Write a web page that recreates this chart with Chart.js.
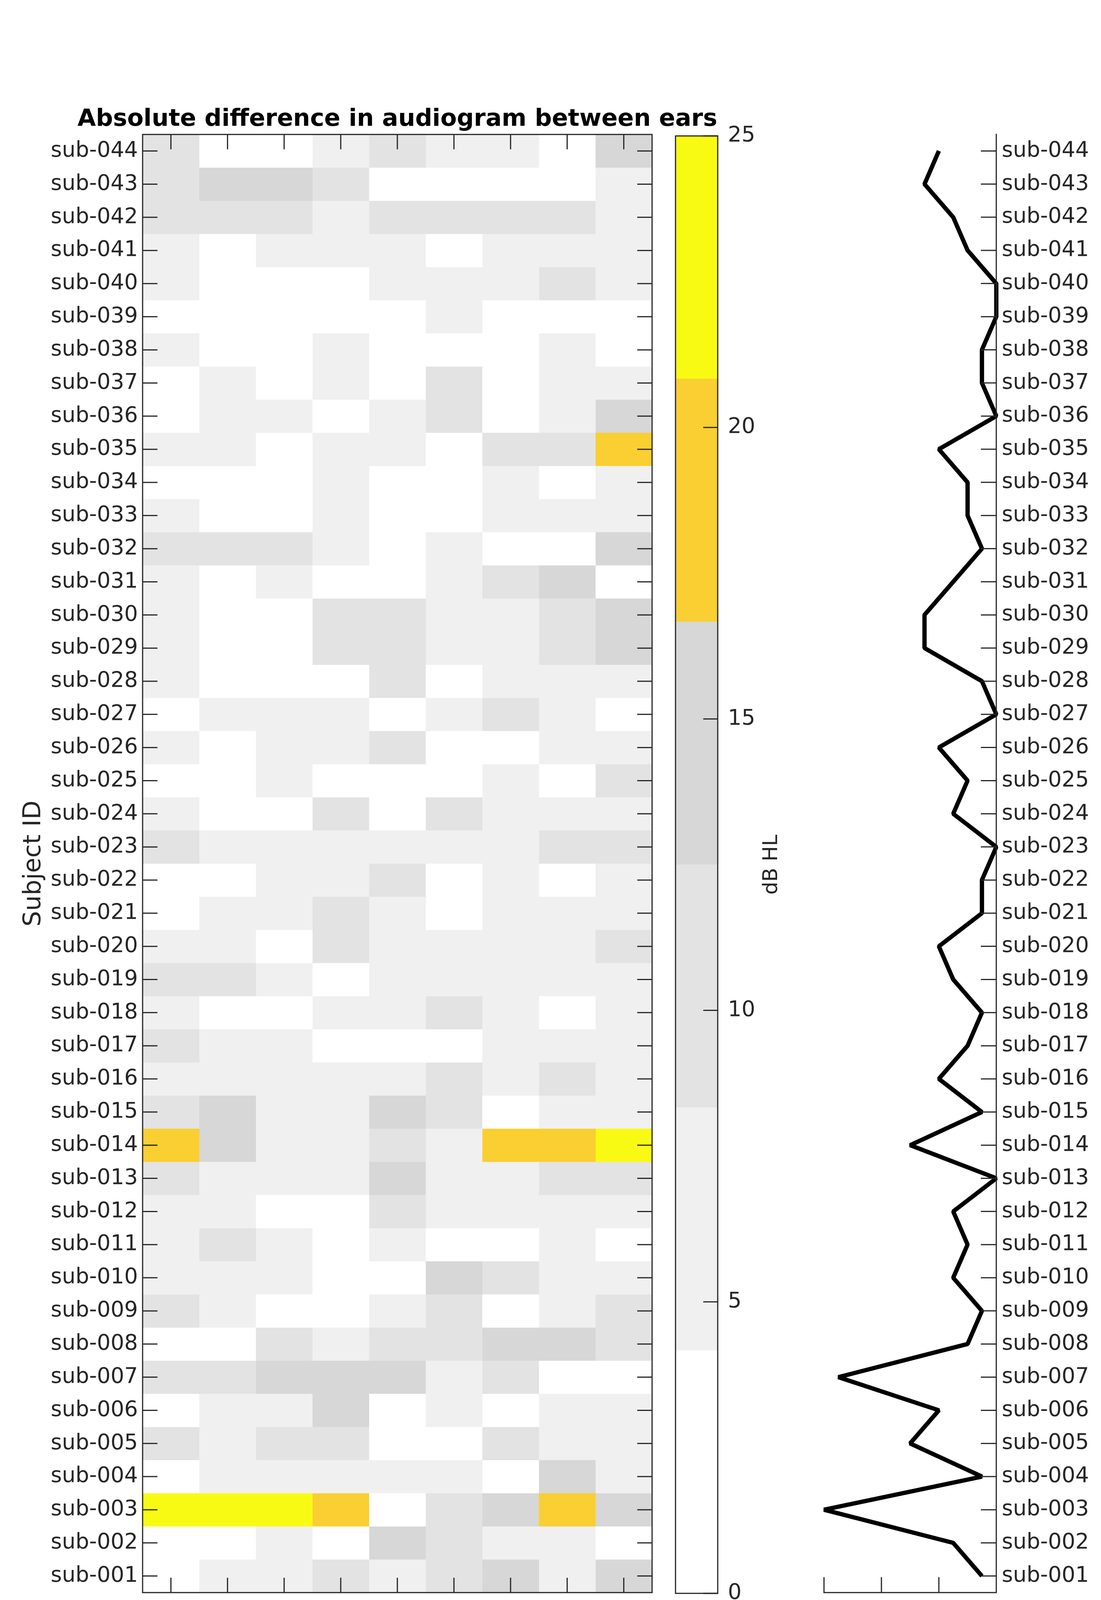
<!DOCTYPE html>
<html>
<head>
<meta charset="utf-8">
<title>Absolute difference in audiogram between ears</title>
<script src="https://cdn.jsdelivr.net/npm/chart.js@4.4.1/dist/chart.umd.min.js"></script>
<style>
  html, body { margin: 0; padding: 0; background: #ffffff; }
  body { width: 2818px; height: 4583px; position: relative; overflow: hidden; }
  canvas { position: absolute; top: 0; }
  #heat { left: 0; }
  #cbar { left: 1700px; }
  #pta  { left: 2000px; }
</style>
</head>
<body>
<canvas id="heat" width="2034" height="4583"></canvas>
<canvas id="cbar" width="300" height="4583"></canvas>
<canvas id="pta" width="818" height="4583"></canvas>

<script>
'use strict';

// ─────────────────────────────────────────────
// DATA
// ─────────────────────────────────────────────

const SUBJECTS = [
  'sub-001', 'sub-002', 'sub-003', 'sub-004', 'sub-005', 'sub-006', 'sub-007', 'sub-008',
  'sub-009', 'sub-010', 'sub-011', 'sub-012', 'sub-013', 'sub-014', 'sub-015', 'sub-016',
  'sub-017', 'sub-018', 'sub-019', 'sub-020', 'sub-021', 'sub-022', 'sub-023', 'sub-024',
  'sub-025', 'sub-026', 'sub-027', 'sub-028', 'sub-029', 'sub-030', 'sub-031', 'sub-032',
  'sub-033', 'sub-034', 'sub-035', 'sub-036', 'sub-037', 'sub-038', 'sub-039', 'sub-040',
  'sub-041', 'sub-042', 'sub-043', 'sub-044',
];

const FREQ_LABELS = ['.125', '.25', '.5', '1', '2', '3', '4', '6', '8'];

// |left - right| threshold per subject (rows) and frequency (columns), dB HL
const DB_DIFF = [
  [0, 5, 5, 10, 5, 10, 15, 5, 15],      // sub-001
  [0, 0, 5, 0, 15, 10, 5, 5, 0],        // sub-002
  [25, 25, 25, 20, 0, 10, 15, 20, 15],  // sub-003
  [0, 5, 5, 5, 5, 5, 0, 15, 5],         // sub-004
  [10, 5, 10, 10, 0, 0, 10, 5, 5],      // sub-005
  [0, 5, 5, 15, 0, 5, 0, 5, 5],         // sub-006
  [10, 10, 15, 15, 15, 5, 10, 0, 0],    // sub-007
  [0, 0, 10, 5, 10, 10, 15, 15, 10],    // sub-008
  [10, 5, 0, 0, 5, 10, 0, 5, 10],       // sub-009
  [5, 5, 5, 0, 0, 15, 10, 5, 5],        // sub-010
  [5, 10, 5, 0, 5, 0, 0, 5, 0],         // sub-011
  [5, 5, 0, 0, 10, 5, 5, 5, 5],         // sub-012
  [10, 5, 5, 5, 15, 5, 5, 10, 10],      // sub-013
  [20, 15, 5, 5, 10, 5, 20, 20, 25],    // sub-014
  [10, 15, 5, 5, 15, 10, 0, 5, 5],      // sub-015
  [5, 5, 5, 5, 5, 10, 5, 10, 5],        // sub-016
  [10, 5, 5, 0, 0, 0, 5, 5, 5],         // sub-017
  [5, 0, 0, 5, 5, 10, 5, 0, 5],         // sub-018
  [10, 10, 5, 0, 5, 5, 5, 5, 5],        // sub-019
  [5, 5, 0, 10, 5, 5, 5, 5, 10],        // sub-020
  [0, 5, 5, 10, 5, 0, 5, 5, 5],         // sub-021
  [0, 0, 5, 5, 10, 0, 5, 0, 5],         // sub-022
  [10, 5, 5, 5, 5, 5, 5, 10, 10],       // sub-023
  [5, 0, 0, 10, 0, 10, 5, 5, 5],        // sub-024
  [0, 0, 5, 0, 0, 0, 5, 0, 10],         // sub-025
  [5, 0, 5, 5, 10, 0, 0, 5, 5],         // sub-026
  [0, 5, 5, 5, 0, 5, 10, 5, 0],         // sub-027
  [5, 0, 0, 0, 10, 0, 5, 5, 5],         // sub-028
  [5, 0, 0, 10, 10, 5, 5, 10, 15],      // sub-029
  [5, 0, 0, 10, 10, 5, 5, 10, 15],      // sub-030
  [5, 0, 5, 0, 0, 5, 10, 15, 0],        // sub-031
  [10, 10, 10, 5, 0, 5, 0, 0, 15],      // sub-032
  [5, 0, 0, 5, 0, 0, 5, 5, 5],          // sub-033
  [0, 0, 0, 5, 0, 0, 5, 0, 5],          // sub-034
  [5, 5, 0, 5, 5, 0, 10, 10, 20],       // sub-035
  [0, 5, 5, 0, 5, 10, 0, 5, 15],        // sub-036
  [0, 5, 0, 5, 0, 10, 0, 5, 5],         // sub-037
  [5, 0, 0, 5, 0, 0, 0, 5, 0],          // sub-038
  [0, 0, 0, 0, 0, 5, 0, 0, 0],          // sub-039
  [5, 0, 0, 0, 5, 5, 5, 10, 5],         // sub-040
  [5, 0, 5, 5, 5, 0, 5, 5, 5],          // sub-041
  [10, 10, 10, 5, 10, 10, 10, 10, 5],   // sub-042
  [10, 15, 15, 10, 0, 0, 0, 0, 5],      // sub-043
  [10, 0, 0, 5, 10, 5, 5, 0, 15],       // sub-044
];

// abs(PTA_left - PTA_right) per subject
const PTA_DIFF = [
  1.25, 3.75, 15, 1.25, 7.5, 5, 13.75, 2.5, 1.25, 3.75, 2.5,
  3.75, 0, 7.5, 1.25, 5, 2.5, 1.25, 3.75, 5, 1.25, 1.25,
  0, 3.75, 2.5, 5, 0, 1.25, 6.25, 6.25, 3.75, 1.25, 2.5,
  2.5, 5, 0, 1.25, 1.25, 0, 0, 2.5, 3.75, 6.25, 5,
];

// colour map (6 steps) and its limits
const CMAP = ['#ffffff', '#f0f0f0', '#e3e3e3', '#d7d7d7', '#f9cf31', '#f9fa14'];
const CLIM = [0, 25];
const CBAR_TICKS = [0, 5, 10, 15, 20, 25];
const PTA_TICKS = [0, 5, 10, 15];

// ─────────────────────────────────────────────
// STYLE
// ─────────────────────────────────────────────

const FONT = "'DejaVu Sans', 'Liberation Sans', sans-serif";
const AXIS_COLOR = '#262626';
const TICK_FONT = { family: FONT, size: 55 };
const TICK_LEN = 38;
const AXIS_LW = 3;
// MATLAB puts the top-right corner of rotated labels at the tick
const XLABEL_SHIFT = 0.19;

Chart.defaults.font.family = FONT;
Chart.defaults.color = AXIS_COLOR;
Chart.defaults.animation = false;

function colorFor(v) {
  const n = CMAP.length;
  const t = (v - CLIM[0]) / (CLIM[1] - CLIM[0]);
  return CMAP[Math.max(0, Math.min(n - 1, Math.floor(t * n)))];
}

function line(ctx, x1, y1, x2, y2) {
  ctx.moveTo(x1, y1);
  ctx.lineTo(x2, y2);
}

const NO_GRID = { display: false, drawTicks: false };
const NO_BORDER = { display: false };

// ─── Heatmap: one floating bar per cell ───
const heatPlugin = {
  id: 'heatFrame',
  afterDraw(chart) {
    const { ctx, chartArea: a, scales } = chart;
    ctx.save();
    ctx.strokeStyle = AXIS_COLOR;
    ctx.lineWidth = AXIS_LW;
    ctx.beginPath();
    FREQ_LABELS.forEach((_, i) => {
      const x = scales.x.getPixelForValue(i);
      line(ctx, x, a.top, x, a.top + TICK_LEN);
      line(ctx, x, a.bottom, x, a.bottom - TICK_LEN);
    });
    SUBJECTS.forEach((_, j) => {
      const y = scales.y.getPixelForValue(j);
      line(ctx, a.left, y, a.left + TICK_LEN, y);
      line(ctx, a.right, y, a.right - TICK_LEN, y);
    });
    ctx.stroke();
    ctx.strokeRect(a.left, a.top, a.right - a.left, a.bottom - a.top);
    ctx.restore();
  },
};

// an empty right axis as wide as the left one keeps the title centred on the heatmap
new Chart(document.getElementById('heat'), {
  type: 'bar',
  data: {
    labels: SUBJECTS,
    datasets: FREQ_LABELS.map((f, c) => ({
      label: f,
      data: SUBJECTS.map(() => [c - 0.5, c + 0.5]),
      backgroundColor: DB_DIFF.map(row => colorFor(row[c])),
      borderWidth: 0,
      grouped: false,
      barPercentage: 1,
      categoryPercentage: 1,
    })),
  },
  options: {
    indexAxis: 'y',
    responsive: false,
    devicePixelRatio: 1,
    layout: { padding: { top: 270, right: 0, bottom: 256, left: 0 } },
    plugins: {
      legend: { display: false },
      tooltip: { enabled: false },
      title: {
        display: true,
        text: 'Absolute difference in audiogram between ears',
        color: '#000000',
        fullSize: true,
        font: { family: FONT, size: 61, weight: 'bold' },
        padding: { top: 0, bottom: 1 },
      },
    },
    scales: {
      x: {
        type: 'linear',
        min: -0.5,
        max: 8.5,
        grid: NO_GRID,
        border: NO_BORDER,
        afterBuildTicks: s => { s.ticks = FREQ_LABELS.map((_, i) => ({ value: i + XLABEL_SHIFT })); },
        afterFit: s => { s.height = 250; },
        ticks: {
          font: TICK_FONT,
          color: AXIS_COLOR,
          autoSkip: false,
          minRotation: 45,
          maxRotation: 45,
          padding: 23,
          callback: (v, i) => FREQ_LABELS[i],
        },
        title: {
          display: true,
          text: 'Center frequency (Hz)',
          color: AXIS_COLOR,
          font: { family: FONT, size: 61 },
          padding: { top: 0, bottom: 18 },
        },
      },
      y: {
        type: 'category',
        reverse: true,
        offset: true,
        grid: NO_GRID,
        border: NO_BORDER,
        afterFit: s => { s.width = 365; },
        ticks: { font: TICK_FONT, color: AXIS_COLOR, autoSkip: false, padding: 12 },
        title: {
          display: true,
          text: 'Subject ID',
          color: AXIS_COLOR,
          font: { family: FONT, size: 63 },
          padding: { top: 49, bottom: 0 },
        },
      },
      yPad: {
        type: 'category',
        axis: 'y',
        position: 'right',
        grid: NO_GRID,
        border: NO_BORDER,
        ticks: { display: false },
        afterFit: s => { s.width = 365; },
      },
    },
  },
  plugins: [heatPlugin],
});

// ─── Colour bar ───
const cbarPlugin = {
  id: 'cbarFrame',
  afterDraw(chart) {
    const { ctx, chartArea: a, scales } = chart;
    ctx.save();
    ctx.strokeStyle = AXIS_COLOR;
    ctx.lineWidth = AXIS_LW;
    ctx.beginPath();
    CBAR_TICKS.forEach(v => {
      const y = scales.y.getPixelForValue(v);
      line(ctx, a.right, y, a.right - 37, y);
    });
    ctx.stroke();
    ctx.strokeRect(a.left, a.top, a.right - a.left, a.bottom - a.top);

    // label reads bottom to top
    ctx.fillStyle = AXIS_COLOR;
    ctx.font = `52px ${FONT}`;
    ctx.textAlign = 'center';
    ctx.textBaseline = 'middle';
    ctx.translate(a.right + 138, (a.top + a.bottom) / 2);
    ctx.rotate(-Math.PI / 2);
    ctx.fillText('dB HL', 0, 0);
    ctx.restore();
  },
};

const cbarStep = (CLIM[1] - CLIM[0]) / CMAP.length;

new Chart(document.getElementById('cbar'), {
  type: 'bar',
  data: {
    labels: ['dB HL'],
    datasets: CMAP.map((c, i) => ({
      data: [[CLIM[0] + i * cbarStep, CLIM[0] + (i + 1) * cbarStep]],
      backgroundColor: c,
      borderWidth: 0,
      grouped: false,
      barPercentage: 1,
      categoryPercentage: 1,
    })),
  },
  options: {
    responsive: false,
    devicePixelRatio: 1,
    layout: { padding: { top: 348, right: 0, bottom: 504, left: 29 } },
    plugins: { legend: { display: false }, tooltip: { enabled: false } },
    scales: {
      x: { display: false },
      y: {
        position: 'right',
        min: CLIM[0],
        max: CLIM[1],
        grid: NO_GRID,
        border: NO_BORDER,
        afterBuildTicks: s => { s.ticks = CBAR_TICKS.map(v => ({ value: v })); },
        afterFit: s => { s.width = 163; },
        ticks: { font: TICK_FONT, color: AXIS_COLOR, padding: 26 },
      },
    },
  },
  plugins: [cbarPlugin],
});

// ─── PTA difference profile ───
const ptaPlugin = {
  id: 'ptaFrame',
  afterDraw(chart) {
    const { ctx, chartArea: a, scales } = chart;
    ctx.save();
    ctx.strokeStyle = AXIS_COLOR;
    ctx.lineWidth = AXIS_LW;
    ctx.lineCap = 'square';
    ctx.beginPath();
    PTA_TICKS.forEach(v => {
      const x = scales.x.getPixelForValue(v);
      line(ctx, x, a.bottom, x, a.bottom - TICK_LEN);
    });
    SUBJECTS.forEach((_, j) => {
      const y = scales.y.getPixelForValue(j);
      line(ctx, a.right, y, a.right - TICK_LEN, y);
    });
    line(ctx, a.left, a.bottom, a.right, a.bottom);
    line(ctx, a.right, a.top, a.right, a.bottom);
    ctx.stroke();

    // x label with subscripts
    const parts = [
      ['abs(PTA', 62, 0], ['left', 48, 29], [' - PTA', 62, 0], ['right', 48, 29], [')', 62, 0],
    ];
    let total = 0;
    parts.forEach(p => {
      ctx.font = `${p[1]}px ${FONT}`;
      p.push(ctx.measureText(p[0]).width);
      total += p[3];
    });
    let x = (a.left + a.right) / 2 - total / 2;
    const base = a.bottom + 138;
    ctx.fillStyle = AXIS_COLOR;
    ctx.textAlign = 'left';
    ctx.textBaseline = 'alphabetic';
    parts.forEach(p => {
      ctx.font = `${p[1]}px ${FONT}`;
      ctx.fillText(p[0], x, base + p[2]);
      x += p[3];
    });
    ctx.restore();
  },
};

new Chart(document.getElementById('pta'), {
  type: 'line',
  data: {
    labels: SUBJECTS,
    datasets: [{
      data: PTA_DIFF,
      borderColor: '#000000',
      borderWidth: 11,
      borderJoinStyle: 'bevel',
      pointRadius: 0,
      tension: 0,
      fill: false,
      clip: false,
    }],
  },
  options: {
    indexAxis: 'y',
    responsive: false,
    devicePixelRatio: 1,
    layout: { padding: { top: 344, right: 0, bottom: 386, left: 109 } },
    plugins: { legend: { display: false }, tooltip: { enabled: false } },
    scales: {
      x: {
        type: 'linear',
        position: 'bottom',
        min: 0,
        max: 15,
        reverse: true,
        grid: NO_GRID,
        border: NO_BORDER,
        afterBuildTicks: s => { s.ticks = PTA_TICKS.map(v => ({ value: v })); },
        afterFit: s => { s.height = 120; },
        ticks: { font: TICK_FONT, color: AXIS_COLOR, padding: 16 },
      },
      y: {
        type: 'category',
        position: 'right',
        reverse: true,
        offset: true,
        grid: NO_GRID,
        border: NO_BORDER,
        afterFit: s => { s.width = 268; },
        ticks: { font: TICK_FONT, color: AXIS_COLOR, autoSkip: false, padding: 14 },
      },
    },
  },
  plugins: [ptaPlugin],
});
</script>
</body>
</html>
